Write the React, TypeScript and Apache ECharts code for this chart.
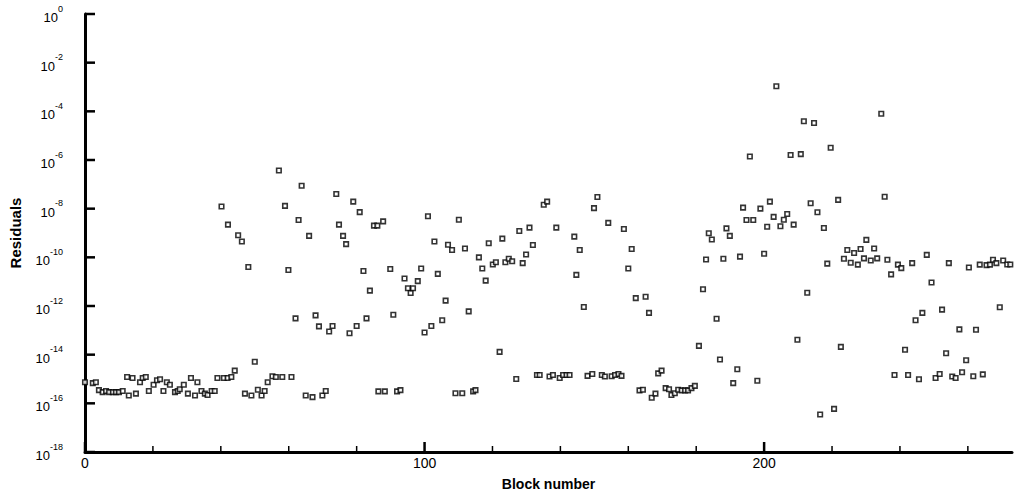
import React, { useEffect, useRef } from "react";
import * as echarts from "echarts";

// Block numbers (x) and residual values (y)
const blockNumbers: number[] = [
  0, 2.3, 3.2, 4.1, 5.2, 6.2, 7.1, 8.2, 9.1, 10.0, 11.1, 12.4, 12.9, 14.0, 15.0, 16.2, 17.0, 17.9, 18.8, 20.2,
  21.2, 22.1, 23.1, 24.1, 25.0, 26.5, 27.3, 27.9, 29.1, 30.3, 31.2, 32.4, 33.1, 34.3, 35.3, 36.1, 37.3, 38.2, 39.0, 40.9,
  42.0, 43.1, 44.1, 47.1, 49.0, 50.0, 50.9, 52.0, 52.9, 53.8, 55.2, 56.2, 58.1, 60.8, 65.0, 67.0, 69.9, 70.9, 86.4, 88.3,
  91.9, 92.9, 109.1, 111.1, 114.3, 115.0, 122.1, 127.0, 133.1, 133.9, 136.8, 137.8, 139.8, 140.8, 141.8, 142.7, 148.0, 149.4, 152.2, 153.1,
  155.1, 156.1, 157.1, 158.0, 163.3, 164.3, 166.9, 168.0, 168.8, 169.8, 171.0, 172.0, 172.7, 173.7, 174.7, 175.7, 176.7, 177.6, 178.6, 179.6,
  180.8, 187.0, 190.9, 192.1, 198.0, 216.5, 220.6, 209.8, 222.6, 238.4, 242.4, 245.6, 250.5, 251.7, 255.4, 256.4, 258.3, 261.6, 264.4, 241.5,
  253.6, 259.5,
  40.2, 42.1, 45.1, 46.2, 48.1, 57.1, 58.9, 59.9, 62.0, 62.9, 63.8, 66.0, 67.9, 68.9, 71.9, 72.9, 74.0, 74.8, 76.0, 76.9,
  77.9, 79.0, 80.0, 80.9, 82.0, 82.9, 83.9, 85.1, 86.1, 87.8, 89.9, 90.8, 94.1, 95.1, 95.9, 96.6, 98.0, 99.0, 100.0, 101.0,
  102.0, 102.9, 103.9, 105.2, 106.2, 106.9, 108.1, 110.1, 111.9, 113.0, 116.0, 117.0, 118.0, 118.9, 120.1, 121.0, 122.9, 123.8, 124.8, 125.8,
  127.9, 128.9, 129.9, 130.9, 131.9, 135.1, 136.1, 138.8, 144.1, 144.7, 145.7, 146.9, 149.9, 150.9, 154.1, 158.7, 160.0, 161.0, 162.2, 165.1,
  166.1, 182.0, 182.9, 183.7, 184.6, 186.0, 188.0, 188.9, 189.9, 192.9, 193.8, 194.8, 195.8, 196.8, 198.9, 200.0, 200.9, 201.7, 202.8, 203.6,
  204.8, 205.8, 206.8, 207.8, 208.7, 210.8, 211.7, 212.7, 213.7, 214.7, 215.7, 217.6, 218.6, 219.6, 221.8, 223.5, 224.5, 225.5, 226.5, 227.6,
  228.4, 229.4, 230.1, 231.4, 232.4, 233.3, 234.5, 235.5, 236.3, 237.4, 239.4, 240.4, 243.6, 244.6, 246.6, 247.9, 249.3, 252.4, 254.4, 257.5,
  260.3, 262.4, 263.5, 265.5, 266.5, 267.4, 268.4, 269.4, 270.4, 271.6, 272.5,
];

const residuals: number[] = [
  7.4e-16, 6.8e-16, 7.4e-16, 3.5e-16, 2.9e-16, 3.2e-16, 2.9e-16, 2.9e-16, 2.9e-16, 2.9e-16, 3.2e-16, 1.2e-15, 2.1e-16, 1.1e-15, 2.5e-16, 7.4e-16, 1.1e-15, 1.2e-15, 3.2e-16, 5.8e-16,
  8.9e-16, 9.8e-16, 3.2e-16, 7.4e-16, 5.8e-16, 2.9e-16, 3.2e-16, 3.8e-16, 5.8e-16, 2.5e-16, 1.1e-15, 2.1e-16, 7.4e-16, 3.2e-16, 2.5e-16, 2.2e-16, 3.2e-16, 3.2e-16, 1.1e-15, 1.1e-15,
  1.1e-15, 1.2e-15, 2.2e-15, 2.5e-16, 2.1e-16, 5.1e-15, 3.6e-16, 2.1e-16, 3.2e-16, 7.4e-16, 1.3e-15, 1.2e-15, 1.2e-15, 1.2e-15, 2.1e-16, 1.8e-16, 2.1e-16, 3.2e-16, 3.1e-16, 3.1e-16,
  3.1e-16, 3.5e-16, 2.6e-16, 2.6e-16, 3.1e-16, 3.5e-16, 1.3e-14, 1.0e-15, 1.45e-15, 1.45e-15, 1.26e-15, 1.45e-15, 1.1e-15, 1.45e-15, 1.45e-15, 1.45e-15, 1.35e-15, 1.6e-15, 1.45e-15, 1.26e-15,
  1.3e-15, 1.45e-15, 1.6e-15, 1.35e-15, 3.4e-16, 3.6e-16, 1.7e-16, 2.5e-16, 1.7e-15, 2.2e-15, 4.2e-16, 3.8e-16, 2.2e-16, 2.6e-16, 3.6e-16, 3.4e-16, 3.4e-16, 3.4e-16, 4.2e-16, 5.2e-16,
  2.3e-14, 6.3e-15, 6.8e-16, 2.5e-15, 8.5e-16, 3.5e-17, 5.9e-17, 4.1e-14, 2.1e-14, 1.45e-15, 1.45e-15, 9.8e-16, 1.1e-15, 1.6e-15, 1.26e-15, 1.1e-15, 1.9e-15, 1.3e-15, 1.55e-15, 1.6e-14,
  1.15e-14, 5.9e-15,
  1.23e-8, 2.2e-9, 8.1e-10, 4.5e-10, 4.0e-11, 3.7e-7, 1.3e-8, 3.0e-11, 3.1e-13, 3.4e-9, 8.7e-8, 7.6e-10, 4.1e-13, 1.45e-13, 8.9e-14, 1.5e-13, 4.0e-8, 2.2e-9, 7.6e-10, 3.5e-10,
  7.6e-14, 1.95e-8, 1.5e-13, 7.2e-9, 2.75e-11, 3.1e-13, 4.3e-12, 2.0e-9, 2.0e-9, 3.0e-9, 3.3e-11, 4.4e-13, 1.35e-11, 5.4e-12, 3.4e-12, 5.4e-12, 1.05e-11, 3.5e-11, 8.1e-14, 4.9e-9,
  1.5e-13, 4.5e-10, 2.1e-11, 2.6e-13, 1.66e-12, 3.3e-10, 2.0e-10, 3.5e-9, 2.3e-10, 6.0e-13, 1.0e-10, 3.5e-11, 1.1e-11, 3.8e-10, 5.1e-11, 6.3e-11, 5.9e-10, 6.3e-11, 8.7e-11, 6.9e-11,
  1.2e-9, 5.8e-11, 1.3e-10, 1.66e-9, 3.2e-10, 1.45e-8, 1.95e-8, 1.66e-9, 7.1e-10, 1.9e-11, 2.0e-10, 9.1e-13, 1.05e-8, 3.0e-8, 2.6e-9, 1.45e-9, 3.5e-11, 2.2e-10, 2.1e-12, 2.4e-12,
  5.2e-13, 4.9e-12, 8.1e-11, 9.8e-10, 5.4e-10, 3.0e-13, 8.7e-11, 1.55e-9, 7.6e-10, 1.07e-10, 1.1e-8, 3.4e-9, 1.4e-6, 3.4e-9, 1.0e-8, 1.4e-10, 1.8e-9, 1.95e-8, 4.6e-9, 1.07e-3,
  1.9e-9, 3.5e-9, 6.0e-9, 1.6e-6, 2.2e-9, 1.74e-6, 3.9e-5, 3.5e-12, 1.66e-8, 3.3e-5, 7.1e-9, 1.6e-9, 5.5e-11, 3.2e-6, 2.3e-8, 8.7e-11, 2.0e-10, 6.0e-11, 1.5e-10, 5.0e-11,
  2.2e-10, 9.1e-11, 5.2e-10, 7.4e-11, 2.3e-10, 9.1e-11, 7.9e-5, 3.1e-8, 7.9e-11, 2.0e-11, 5.0e-11, 3.6e-11, 5.8e-11, 2.6e-13, 5.2e-13, 1.26e-10, 9.3e-12, 7.1e-13, 5.8e-11, 1.1e-13,
  3.8e-11, 1.05e-13, 5.0e-11, 4.8e-11, 5.0e-11, 7.9e-11, 5.8e-11, 8.9e-13, 7.4e-11, 5.1e-11, 5.1e-11,
];

const xMajorTicks: number[] = [0, 100, 200];
const xMinorTicks: number[] = [20, 40, 60, 80, 120, 140, 160, 180, 220, 240, 260];
const yTicks: number[] = [1e-18, 1e-16, 1e-14, 1e-12, 1e-10, 1e-8, 1e-6, 1e-4, 1e-2, 1];
const yMin = 1e-18;
const yMax = 1;

const FONT = "Liberation Sans, Arial, sans-serif";

export default function App() {
  const ref = useRef<HTMLDivElement>(null);

  useEffect(() => {
    document.body.style.margin = "0";
    if (!ref.current) return;
    const chart = echarts.init(ref.current, null, { renderer: "svg" });
    const data = blockNumbers.map((x, i) => [x, residuals[i]]);
    const option: any = {
      animation: false,
      backgroundColor: "#fff",
      grid: { left: 84, right: 6, top: 14, bottom: 36, containLabel: false },
      xAxis: {
        type: "value",
        min: 0,
        max: 273,
        interval: 20,
        axisLine: { show: true, lineStyle: { color: "#000", width: 3 } },
        axisTick: { show: false },
        axisLabel: {
          show: true,
          color: "#000",
          fontSize: 14,
          fontFamily: FONT,
          margin: 4,
          formatter: (v: number) => (v % 100 === 0 ? String(v) : ""),
        },
        splitLine: { show: false },
        name: "Block number",
        nameLocation: "middle",
        nameGap: 25,
        nameTextStyle: { color: "#000", fontSize: 14, fontWeight: "bold", fontFamily: FONT },
      },
      yAxis: {
        type: "log",
        logBase: 10,
        min: yMin,
        max: yMax,
        interval: 2,
        axisLine: { show: true, lineStyle: { color: "#000", width: 3 } },
        axisTick: { show: false },
        splitLine: { show: false },
        axisLabel: {
          margin: 22,
          color: "#000",
          formatter: (v: number) => {
            const e = Math.round(Math.log10(v));
            return `{b|10}{s|${e}}`;
          },
          rich: {
            b: { fontSize: 13, color: "#000", fontFamily: FONT, verticalAlign: "bottom", lineHeight: 20 },
            s: { fontSize: 9, color: "#000", fontFamily: FONT, verticalAlign: "top", lineHeight: 20 },
          },
        },
        name: "Residuals",
        nameLocation: "middle",
        nameGap: 62,
        nameRotate: 90,
        nameTextStyle: { color: "#000", fontSize: 15, fontWeight: "bold", fontFamily: FONT },
      },
      series: [
        {
          type: "scatter",
          data,
          symbol: "rect",
          symbolSize: 4.5,
          itemStyle: { color: "#fff", borderColor: "#000", borderWidth: 1.6 },
        },
      ],
    };
    chart.setOption(option);

    // Tick marks drawn as graphic rects, placed through the chart's own axis scales
    const ticks: any[] = [];
    yTicks.forEach((v) => {
      const p = chart.convertToPixel({ gridIndex: 0 }, [0, v]) as number[];
      ticks.push({ type: "rect", z: 100, silent: true, shape: { x: p[0], y: p[1] - 1.25, width: 10, height: 2.5 }, style: { fill: "#000" } });
    });
    xMinorTicks.forEach((v) => {
      const p = chart.convertToPixel({ gridIndex: 0 }, [v, yMin]) as number[];
      ticks.push({ type: "rect", z: 100, silent: true, shape: { x: p[0] - 0.75, y: p[1] - 6, width: 1.5, height: 6 }, style: { fill: "#000" } });
    });
    xMajorTicks.forEach((v) => {
      const p = chart.convertToPixel({ gridIndex: 0 }, [v, yMin]) as number[];
      ticks.push({ type: "rect", z: 100, silent: true, shape: { x: p[0] - 1.25, y: p[1] - 10, width: 2.5, height: 10 }, style: { fill: "#000" } });
    });
    chart.setOption({ graphic: ticks });

    return () => chart.dispose();
  }, []);

  return <div ref={ref} style={{ width: 1018, height: 496 }} />;
}
